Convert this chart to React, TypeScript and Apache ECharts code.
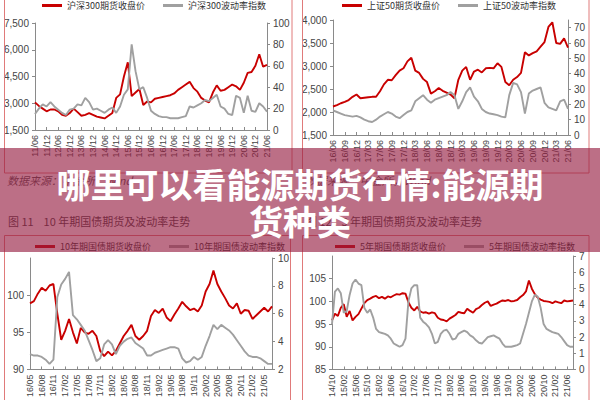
import React, { useEffect, useRef } from "react";
import * as echarts from "echarts";

// ---------- data ----------
// Chart 1: CSI300 futures close & volatility index (every 2 months from 11/06)
const hs300Labels = ["11/06","11/12","12/06","12/12","13/06","13/12","14/06","14/12","15/06","15/12","16/06","16/12","17/06","17/12","18/06","18/12","19/06","19/12","20/06","20/12","21/06"];
const hs300Price = [3050,2850,2700,2550,2650,2650,2550,2350,2300,2450,2700,2500,2300,2350,2450,2350,2250,2200,2150,2300,2450,3300,3500,4500,5300,3400,3600,3800,2900,3100,3050,3250,3300,3350,3400,3450,3550,3750,3900,4050,4200,3850,3650,3300,3150,3050,3600,4000,3700,3750,3900,4050,3950,3750,4150,4700,4750,5100,5750,5050,5150];
const hs300Vol = [15,20,24,22,26,22,19,16,14,19,20,24,23,30,26,19,20,18,16,19,21,16,22,33,38,80,55,38,40,30,18,15,13,12,12,11,11,11,12,13,22,21,23,25,28,27,30,33,22,20,15,14,32,30,16,32,18,17,25,22,17];

// Chart 2: SSE50 futures close & volatility index (monthly from 16/06)
const sz50Labels = ["16/06","16/09","16/12","17/03","17/06","17/09","17/12","18/03","18/06","18/09","18/12","19/03","19/06","19/09","19/12","20/03","20/06","20/09","20/12","21/03","21/06"];
const sz50Price = [2120,2150,2190,2220,2260,2330,2380,2300,2310,2320,2330,2330,2450,2600,2700,2690,2800,2900,2950,3100,3180,2900,2850,2720,2650,2400,2450,2520,2460,2420,2380,2300,2700,2900,2980,2700,2880,2920,2860,2950,2960,2950,3060,2980,2650,2580,2700,2760,2850,3300,3230,3280,3320,3420,3520,3850,3950,3500,3480,3600,3400];
const sz50Vol = [16,15,14,13,12.5,12,12.5,11.5,10,9,8.5,10,12,13.5,15,14,12,11,13,15,16,22,24,26,23,21,23,24,25,26,28,26,17,22,28,31,25,22,17,15,14,13.5,13,12,11.5,26,34,33,28,14,27,29,30,31,21,18,17,16,22,23,17];

// Chart 3: 10Y treasury futures close & volatility (monthly from 16/05)
const t10Labels = ["16/05","16/08","16/11","17/02","17/05","17/08","17/11","18/02","18/05","18/08","18/11","19/02","19/05","19/08","19/11","20/02","20/05","20/08","20/11","21/02","21/05"];
const t10Price = [98.9,99.2,100.2,101.0,100.6,101.3,101.5,97.5,94.0,95.2,96.8,95.0,93.5,95.6,95.0,94.8,95.2,94.5,92.5,91.8,92.4,91.9,92.5,93.5,94.5,95.2,96.0,94.5,94.0,94.5,95.2,97.2,98.0,97.6,98.2,97.0,96.5,97.4,98.2,99.1,98.5,98.0,98.2,97.8,98.6,100.5,101.5,103.3,101.5,100.5,99.6,98.6,98.2,98.9,97.5,98.0,97.9,96.8,97.3,97.8,98.3,97.8,98.5];
const t10Vol = [3.1,3.0,3.0,2.9,2.7,2.4,2.7,7.2,8.1,8.5,9.0,5.9,5.6,5.2,4.8,4.1,3.4,2.6,2.8,3.8,4.1,3.8,3.1,3.7,4.0,4.2,4.3,3.9,3.7,3.5,3.0,3.0,3.2,3.3,3.4,3.5,3.6,3.6,3.5,2.8,2.5,2.6,2.9,2.7,2.9,3.7,4.4,5.2,4.9,5.2,5.0,4.8,4.5,4.1,3.7,3.3,3.0,2.9,2.9,2.8,2.6,2.4,2.4];

// Chart 4: 5Y treasury futures close & volatility (monthly from 14/10)
const t5Labels = ["14/10","15/02","15/06","15/10","16/02","16/06","16/10","17/02","17/06","17/10","18/02","18/06","18/10","19/02","19/06","19/10","20/02","20/06","20/10","21/02","21/06"];
const t5Price = [95.8,97.3,96.8,98.6,99.4,96.6,97.9,95.8,96.6,97.2,98.4,99.6,100.3,100.6,101.0,101.2,100.7,101.0,100.6,101.1,100.9,101.3,101.6,101.5,101.8,101.7,99.8,98.6,98.0,98.8,97.8,97.5,97.6,97.3,97.6,97.4,96.4,96.0,95.9,95.6,96.2,96.6,97.0,97.7,97.5,97.4,98.4,97.9,97.5,98.3,98.6,99.2,99.7,100.0,99.0,99.3,99.5,99.9,100.2,100.1,100.3,100.0,100.1,100.3,100.9,101.4,102.2,104.6,102.8,101.6,100.8,100.4,100.1,100.0,99.9,99.6,100.0,99.8,99.6,100.2,100.0,100.1,100.2];
const t5Vol = [2.8,4.8,5.0,4.7,3.5,3.6,4.6,5.3,5.55,5.3,5.2,3.8,3.5,3.7,3.2,2.5,2.3,2.25,2.2,2.1,1.9,1.6,1.5,1.4,1.5,1.9,4.2,5.0,5.2,5.2,3.2,2.95,2.8,2.6,2.2,1.6,1.7,2.2,2.4,2.45,2.2,1.85,1.9,2.2,2.3,2.4,2.3,2.1,2.0,1.8,1.65,1.6,1.8,2.0,2.05,2.1,2.0,1.9,1.6,1.4,1.4,1.4,1.45,1.5,1.6,2.2,2.8,3.5,4.2,4.6,4.5,3.8,2.8,2.5,2.4,2.3,2.25,2.2,2.0,1.75,1.5,1.4,1.4];

const legendNames = [
  ["沪深300期货收盘价", "沪深300波动率指数"],
  ["上证50期货收盘价", "上证50波动率指数"],
  ["10年期国债期货收盘价", "10年期国债波动率指数"],
  ["5年期国债期货收盘价", "5年期国债波动率指数"],
];

const titleLine1 = "哪里可以看能源期货行情:能源期";
const titleLine2 = "货种类";
const caption11 = "图 11    10 年期国债期货及波动率走势";
const caption12 = "图 12    5 年期国债期货及波动率走势";
const sourceText = "数据来源：中金所，Wind";

// ---------- styling ----------
const LATIN = "'Liberation Sans', Arial, sans-serif";
const CJK = "'Noto Sans CJK SC', sans-serif";
const RED = "#c80000";
const GRAY = "#a0a0a0";
const AXIS = "#8a8a8a";
const BORDER = "#e07a7a";

type Panel = {
  labels: string[];
  step: number;
  xMax: number;
  dataStep: number;
  price: number[];
  vol: number[];
  grid: { left: number; top: number; width: number; height: number };
  left: { min: number; max: number; interval: number; hideMax: boolean; comma: boolean };
  right: { min: number; max: number; interval: number; hideMax: boolean };
  legend: { left: number; top: number };
};

const panels: Panel[] = [
  {
    labels: hs300Labels, step: 6, xMax: 120, dataStep: 2, price: hs300Price, vol: hs300Vol,
    grid: { left: 35, top: 23, width: 232, height: 107 },
    left: { min: 1500, max: 7500, interval: 1500, hideMax: false, comma: true },
    right: { min: 0, max: 100, interval: 20, hideMax: false },
    legend: { left: 42, top: 1 },
  },
  {
    labels: sz50Labels, step: 3, xMax: 60, dataStep: 1, price: sz50Price, vol: sz50Vol,
    grid: { left: 333, top: 20, width: 235, height: 115 },
    left: { min: 1500, max: 4000, interval: 500, hideMax: false, comma: true },
    right: { min: 0, max: 75, interval: 10, hideMax: true },
    legend: { left: 342, top: 1 },
  },
  {
    labels: t10Labels, step: 3, xMax: 62, dataStep: 1, price: t10Price, vol: t10Vol,
    grid: { left: 30, top: 258, width: 242, height: 116 },
    left: { min: 90, max: 105, interval: 5, hideMax: true, comma: false },
    right: { min: 2, max: 10, interval: 2, hideMax: false },
    legend: { left: 35, top: 242 },
  },
  {
    labels: t5Labels, step: 4, xMax: 82, dataStep: 1, price: t5Price, vol: t5Vol,
    grid: { left: 332, top: 256, width: 241, height: 120 },
    left: { min: 85, max: 110, interval: 5, hideMax: true, comma: false },
    right: { min: 0, max: 7, interval: 1, hideMax: false },
    legend: { left: 335, top: 242 },
  },
];

function buildOption() {
  const grid: any[] = [];
  const xAxis: any[] = [];
  const yAxis: any[] = [];
  const series: any[] = [];
  const legend: any[] = [];

  panels.forEach((p, i) => {
    grid.push({ ...p.grid, containLabel: false });
    xAxis.push({
      type: "value",
      gridIndex: i,
      min: 0,
      max: p.xMax,
      interval: p.step,
      axisLine: { show: true, lineStyle: { color: AXIS, width: 1 } },
      axisTick: { show: true, inside: true, length: 3, lineStyle: { color: AXIS } },
      splitLine: { show: false },
      axisLabel: {
        rotate: 90,
        fontSize: 9,
        color: "#444",
        margin: 5,
        fontFamily: LATIN,
        formatter: (v: number) => {
          const k = Math.round(v / p.step);
          return Math.abs(k * p.step - v) < 1e-6 && p.labels[k] ? p.labels[k] : "";
        },
      },
    });
    const leftIdx = yAxis.length;
    yAxis.push({
      type: "value",
      gridIndex: i,
      position: "left",
      min: p.left.min,
      max: p.left.max,
      interval: p.left.interval,
      axisLine: { show: true, lineStyle: { color: AXIS } },
      axisTick: { show: true, inside: false, length: 3, lineStyle: { color: AXIS } },
      splitLine: { show: false },
      axisLabel: {
        fontSize: 10,
        color: "#444",
        margin: 6,
        fontFamily: LATIN,
        showMaxLabel: !p.left.hideMax,
        formatter: (v: number) => (p.left.comma ? v.toLocaleString("en-US") : String(v)),
      },
    });
    const rightIdx = yAxis.length;
    yAxis.push({
      type: "value",
      gridIndex: i,
      position: "right",
      min: p.right.min,
      max: p.right.max,
      interval: p.right.interval,
      axisLine: { show: true, lineStyle: { color: AXIS } },
      axisTick: { show: true, inside: false, length: 3, lineStyle: { color: AXIS } },
      splitLine: { show: false },
      axisLabel: {
        fontSize: 10,
        color: "#444",
        margin: 6,
        fontFamily: LATIN,
        showMaxLabel: !p.right.hideMax,
      },
    });
    const [pn, vn] = legendNames[i];
    series.push({
      type: "line",
      name: pn,
      xAxisIndex: i,
      yAxisIndex: leftIdx,
      data: p.price.map((v, k) => [k * p.dataStep, v]),
      showSymbol: false,
      symbol: "none",
      lineStyle: { color: RED, width: 1.9 },
      itemStyle: { color: RED },
      z: 2,
    });
    series.push({
      type: "line",
      name: vn,
      xAxisIndex: i,
      yAxisIndex: rightIdx,
      data: p.vol.map((v, k) => [k * p.dataStep, v]),
      showSymbol: false,
      symbol: "none",
      lineStyle: { color: GRAY, width: 1.9 },
      itemStyle: { color: GRAY },
      z: 3,
    });
    legend.push({
      left: p.legend.left,
      top: p.legend.top,
      padding: 0,
      itemGap: 18,
      itemWidth: 20,
      itemHeight: 3,
      icon: "rect",
      textStyle: { fontSize: 9, color: "#333", fontFamily: CJK },
      data: [pn, vn],
    });
  });

  const graphic: any[] = [
    { type: "rect", shape: { x: 4.5, y: -2, width: 287.5, height: 175 }, style: { fill: "none", stroke: BORDER, lineWidth: 1 }, z: 1 },
    { type: "rect", shape: { x: 302.5, y: -2, width: 286.5, height: 175 }, style: { fill: "none", stroke: BORDER, lineWidth: 1 }, z: 1 },
    { type: "rect", shape: { x: 4.5, y: 235.5, width: 286, height: 170 }, style: { fill: "none", stroke: BORDER, lineWidth: 1 }, z: 1 },
    { type: "rect", shape: { x: 302.5, y: 235.5, width: 286.5, height: 170 }, style: { fill: "none", stroke: BORDER, lineWidth: 1 }, z: 1 },
    { type: "text", x: 7, y: 180, style: { text: sourceText, fill: "#555", font: `italic 11px ${CJK}`, textVerticalAlign: "middle" }, z: 1 },
    { type: "text", x: 305, y: 180, style: { text: sourceText, fill: "#555", font: `italic 11px ${CJK}`, textVerticalAlign: "middle" }, z: 1 },
    { type: "text", x: 8, y: 221, style: { text: caption11, fill: "#444", font: `11px ${CJK}`, textVerticalAlign: "middle" }, z: 1 },
    { type: "text", x: 306, y: 221, style: { text: caption12, fill: "#444", font: `11px ${CJK}`, textVerticalAlign: "middle" }, z: 1 },
    { type: "rect", shape: { x: 0, y: 148, width: 600, height: 104 }, style: { fill: "rgba(150, 30, 65, 0.64)" }, z: 100 },
    {
      type: "text", x: 300, y: 183, z: 101,
      style: { text: titleLine1, fill: "#ffffff", font: `bold 34px ${CJK}`, textAlign: "center", textVerticalAlign: "middle", shadowBlur: 2, shadowColor: "rgba(0,0,0,0.35)" },
    },
    {
      type: "text", x: 300, y: 220, z: 101,
      style: { text: titleLine2, fill: "#ffffff", font: `bold 34px ${CJK}`, textAlign: "center", textVerticalAlign: "middle", shadowBlur: 2, shadowColor: "rgba(0,0,0,0.35)" },
    },
  ];

  return {
    animation: false,
    backgroundColor: "#ffffff",
    grid,
    xAxis,
    yAxis,
    series,
    legend,
    graphic,
  };
}

export default function App() {
  const ref = useRef<HTMLDivElement>(null);
  useEffect(() => {
    if (!ref.current) return;
    const chart = echarts.init(ref.current, undefined, { renderer: "svg" });
    chart.setOption(buildOption() as any);
    return () => chart.dispose();
  }, []);
  return (
    <div
      ref={ref}
      style={{ position: "absolute", left: 0, top: 0, width: 600, height: 400 }}
    />
  );
}
